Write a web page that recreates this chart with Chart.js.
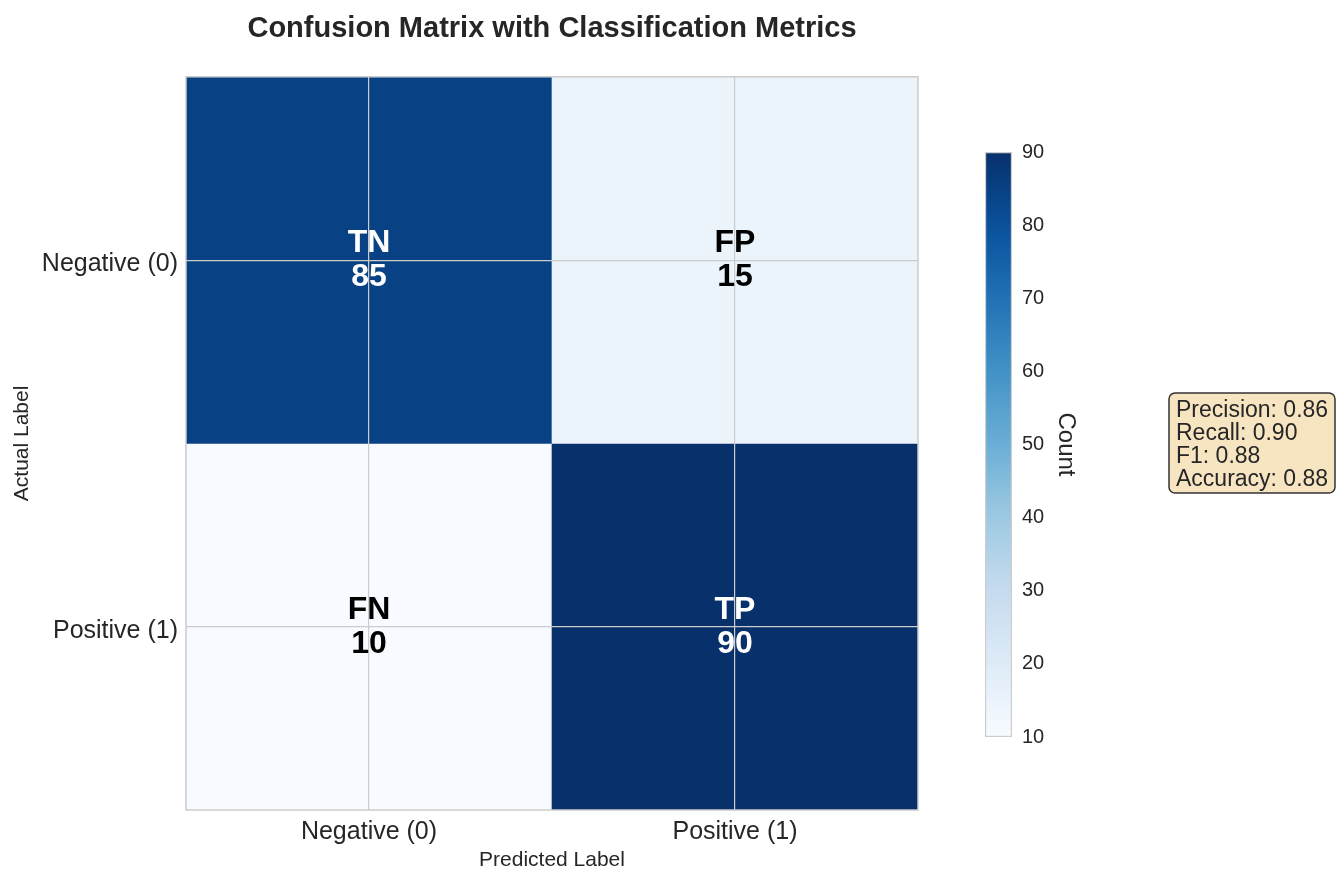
<!DOCTYPE html>
<html>
<head>
<meta charset="utf-8">
<script src="https://cdn.jsdelivr.net/npm/chart.js@4.4.1/dist/chart.umd.min.js"></script>
<style>
  body { margin: 0; background: #fff; }
  #wrap { position: relative; width: 1343px; height: 884px; }
  #cm { position: absolute; left: 0; top: 0; }
  #cb { position: absolute; left: 940px; top: 130px; }
</style>
</head>
<body>
<div id="wrap">
  <canvas id="cm" width="1343" height="884"></canvas>
  <canvas id="cb" width="200" height="640"></canvas>
</div>
<script>
const predictedLabels = ['Negative (0)', 'Positive (1)'];
const actualLabels = ['Negative (0)', 'Positive (1)'];
const cellNames = [['TN', 'FP'], ['FN', 'TP']];
const counts = [[85, 15], [10, 90]];
const colorbarTicks = [10, 20, 30, 40, 50, 60, 70, 80, 90];
const metricNames = ['Precision', 'Recall', 'F1', 'Accuracy'];
const metricValues = [0.86, 0.90, 0.88, 0.88];

Chart.defaults.font.family = "'Liberation Sans', Arial, sans-serif";
Chart.defaults.color = '#262626';

// matplotlib "Blues"
const blues = ['#f7fbff', '#deebf7', '#c6dbef', '#9ecae1', '#6baed6', '#4292c6', '#2171b5', '#08519c', '#08306b'];
const vmin = Math.min(...counts.flat());
const vmax = Math.max(...counts.flat());

function hexRgb(h) {
  return [1, 3, 5].map(i => parseInt(h.substr(i, 2), 16));
}
function bluesAt(t) {
  t = Math.max(0, Math.min(1, t));
  const p = t * (blues.length - 1);
  const i = Math.min(Math.floor(p), blues.length - 2);
  const f = p - i;
  const a = hexRgb(blues[i]), b = hexRgb(blues[i + 1]);
  const c = a.map((v, k) => Math.round(v + (b[k] - v) * f));
  return 'rgb(' + c.join(',') + ')';
}
const colorFor = v => bluesAt((v - vmin) / (vmax - vmin));

const nRows = actualLabels.length;
// top row = first actual label
const datasets = actualLabels.map((lab, r) => ({
  label: lab,
  data: predictedLabels.map(() => [nRows - r - 1, nRows - r]),
  backgroundColor: counts[r].map(colorFor),
  borderWidth: 0,
  barPercentage: 1,
  categoryPercentage: 1,
  grouped: false
}));

const cellText = {
  id: 'cellText',
  afterDraw(chart) {
    const ctx = chart.ctx;
    ctx.save();
    // frame round plot
    const a = chart.chartArea;
    ctx.strokeStyle = '#cccccc';
    ctx.lineWidth = 1.5;
    ctx.strokeRect(a.left, a.top, a.right - a.left, a.bottom - a.top);

    ctx.font = "bold 32px 'Liberation Sans', Arial, sans-serif";
    ctx.textAlign = 'center';
    ctx.textBaseline = 'middle';
    chart.data.datasets.forEach((ds, r) => {
      chart.getDatasetMeta(r).data.forEach((bar, c) => {
        const cy = (bar.y + bar.base) / 2;
        ctx.fillStyle = counts[r][c] > (vmin + vmax) / 2 ? '#ffffff' : '#000000';
        ctx.fillText(cellNames[r][c], bar.x, cy - 17);
        ctx.fillText(String(counts[r][c]), bar.x, cy + 17);
      });
    });

    // metrics box
    const bx = 1169, by = 393, bw = 166, bh = 100;
    ctx.beginPath();
    ctx.roundRect(bx, by, bw, bh, 6);
    ctx.fillStyle = 'rgba(245,222,179,0.8)';
    ctx.fill();
    ctx.strokeStyle = '#333333';
    ctx.lineWidth = 1.5;
    ctx.stroke();
    ctx.font = "23px 'Liberation Sans', Arial, sans-serif";
    ctx.fillStyle = '#262626';
    ctx.textAlign = 'left';
    metricNames.forEach((m, i) => {
      ctx.fillText(m + ': ' + metricValues[i].toFixed(2), bx + 7, by + 17.5 + i * 23);
    });
    ctx.restore();
  }
};

new Chart(document.getElementById('cm'), {
  type: 'bar',
  data: { labels: predictedLabels, datasets: datasets },
  options: {
    responsive: false,
    animation: false,
    layout: { padding: { left: 0, right: 425, top: 0, bottom: 0 } },
    plugins: {
      legend: { display: false },
      tooltip: { enabled: false },
      title: {
        display: true,
        fullSize: false,
        text: 'Confusion Matrix with Classification Metrics',
        font: { size: 29, weight: 'bold' },
        color: '#262626',
        padding: { top: 12, bottom: 30 }
      }
    },
    scales: {
      x: {
        offset: true,
        grid: { offset: false, color: '#cccccc', lineWidth: 1.2, drawTicks: false, z: 1 },
        border: { display: false },
        ticks: { font: { size: 25 }, padding: 7, color: '#262626' },
        title: {
          display: true, text: 'Predicted Label', font: { size: 21 }, color: '#262626',
          padding: { top: 0, bottom: 11 }
        },
        afterFit: s => { s.height = 74; }
      },
      y: {
        min: 0,
        max: nRows,
        afterBuildTicks: s => { s.ticks = actualLabels.map((l, r) => ({ value: nRows - r - 0.5 })); },
        grid: { color: '#cccccc', lineWidth: 1.2, drawTicks: false, z: 1 },
        border: { display: false },
        ticks: {
          font: { size: 25 }, padding: 8, color: '#262626', labelOffset: 4,
          callback: v => actualLabels[nRows - 0.5 - v]
        },
        title: {
          display: true, text: 'Actual Label', font: { size: 21 }, color: '#262626',
          padding: { top: 10, bottom: 0 }
        },
        afterFit: s => { s.width = 186; }
      }
    }
  },
  plugins: [cellText]
});

// colorbar
new Chart(document.getElementById('cb'), {
  type: 'bar',
  data: {
    labels: ['Count'],
    datasets: [{
      data: [[vmin, vmax]],
      backgroundColor: c => {
        const area = c.chart.chartArea;
        if (!area) return blues[4];
        const g = c.chart.ctx.createLinearGradient(0, area.bottom, 0, area.top);
        for (let i = 0; i <= 20; i++) g.addColorStop(i / 20, bluesAt(i / 20));
        return g;
      },
      borderColor: '#cccccc',
      borderWidth: 1.5,
      borderSkipped: false,
      barPercentage: 1,
      categoryPercentage: 1
    }]
  },
  options: {
    responsive: false,
    animation: false,
    layout: { padding: { left: 45, top: 22, bottom: 33, right: 0 } },
    plugins: { legend: { display: false }, tooltip: { enabled: false } },
    scales: {
      x: { display: false },
      y: {
        position: 'right',
        min: vmin,
        max: vmax,
        afterBuildTicks: s => { s.ticks = colorbarTicks.map(v => ({ value: v })); },
        grid: { display: false, drawTicks: false },
        border: { display: false },
        ticks: { font: { size: 20 }, padding: 10, color: '#262626' },
        title: {
          display: true, text: 'Count', font: { size: 24 }, color: '#262626',
          padding: { top: 60, bottom: 0 }
        },
        afterFit: s => { s.width = 128; }
      }
    }
  }
});
</script>
</body>
</html>
